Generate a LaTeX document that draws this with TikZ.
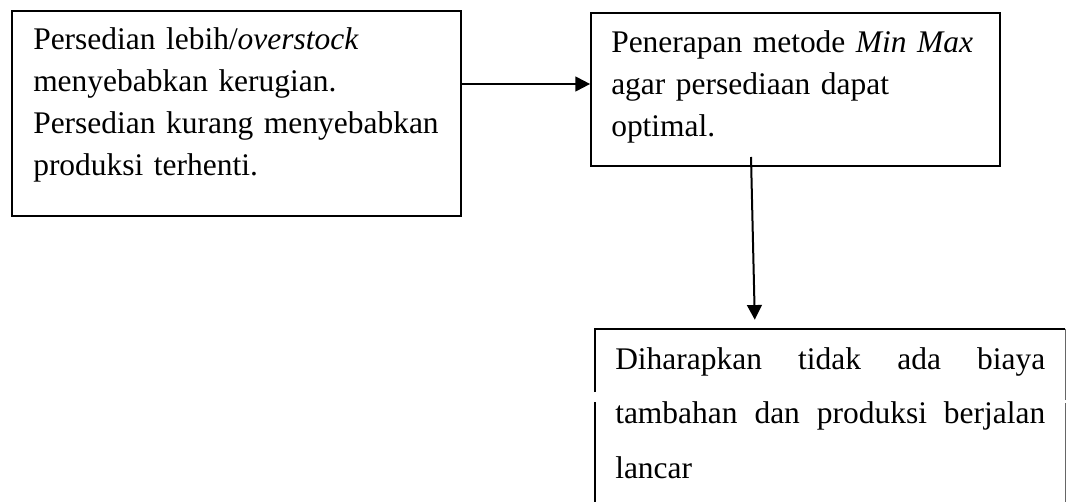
\documentclass[tikz,border=0pt]{standalone}
\usepackage{fontspec}
\setmainfont{Liberation Serif}
\usetikzlibrary{arrows.meta,fit}
\tikzset{
  boxline/.style={line width=1.3pt, black},
  frame/.style={draw, boxline, inner sep=0pt},
  arr/.style={line width=1.5pt, -{Triangle[length=11pt,width=11pt]}},
  txt/.style={anchor=base west, inner sep=0pt, align=left,
    font=\fontsize{23.6pt}{31.5pt}\selectfont},
  txtwide/.style={anchor=base west, inner sep=0pt, align=left,
    font=\fontsize{23.6pt}{41pt}\selectfont}
}
\begin{document}
\begin{tikzpicture}[x=0.75pt,y=-0.75pt]
\useasboundingbox (0,0) rectangle (1066,502);
% boxes
\node[frame, fit={(12,11) (461,216)}] (b1) {};
\node[frame, fit={(591,13) (1000,166)}] (b2) {};
\node[inner sep=0pt, fit={(595,329) (1065,520)}] (b3) {};
\draw[boxline] (b3.west |- 0,392) -- (b3.north west) -- (b3.north east);
\draw[boxline] (b3.west |- 0,402) -- (b3.south west);
\draw[line width=0.8pt, black!60] (b3.north east) -- (b3.east |- 0,400);
\draw[line width=0.8pt, black!60] (b3.east |- 0,403) -- (b3.south east);
% texts
\node[txt, text width=315pt] (t1) at (33,50)
  {Persedian lebih/\textit{overstock}\\menyebabkan kerugian.\\Persedian kurang menyebabkan\\produksi terhenti.};
\node[txt, text width=300pt] (t2) at (611,53)
  {Penerapan metode \textit{Min Max}\\agar persediaan dapat\\optimal.};
\node[txtwide, text width=322.5pt] (t3) at (615,369)
  {\makebox[322.5pt][l]{Diharapkan\hfill tidak\hfill ada\hfill biaya}\\\makebox[322.5pt][l]{tambahan\hfill dan\hfill produksi\hfill berjalan}\\lancar};
% connectors
\draw[arr] (b1.east |- 0,84) -- (b2.west |- 0,84);
\coordinate (a2s) at (751,157);
\draw[arr, shorten >=6.75pt] (a2s) -- (b3.north -| 755,0);
\end{tikzpicture}
\end{document}
